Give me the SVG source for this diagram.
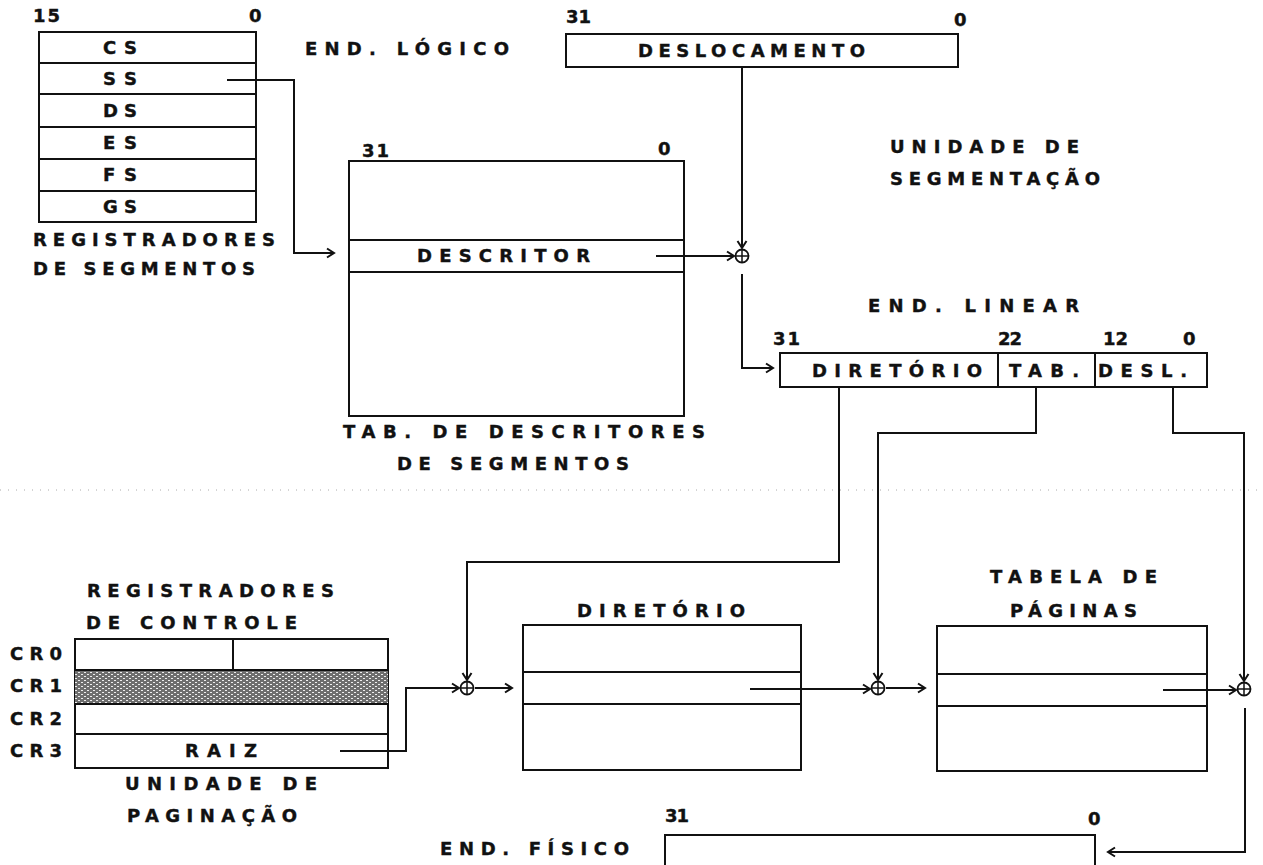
<svg xmlns="http://www.w3.org/2000/svg" width="1263" height="865" viewBox="0 0 1263 865">
<defs>
<style>
.t{font-family:"DejaVu Sans","Liberation Sans",sans-serif;font-weight:bold;font-size:18px;fill:#111;stroke:#111;stroke-width:0.4;letter-spacing:3px}
.box{fill:#fff;stroke:#111;stroke-width:2}
.ln{fill:none;stroke:#111;stroke-width:2}
.arr{fill:none;stroke:#111;stroke-width:2;marker-end:url(#ah)}
.sep{stroke:#aaa;stroke-width:1;stroke-dasharray:1 7}
</style>
<marker id="ah" markerWidth="12" markerHeight="12" refX="9" refY="6" orient="auto" markerUnits="userSpaceOnUse">
<path d="M2,1.5 L9,6 L2,10.5" fill="none" stroke="#111" stroke-width="2"/>
</marker>
<pattern id="hatch" width="6" height="4" patternUnits="userSpaceOnUse">
<rect width="6" height="4" fill="#6e6e6e"/>
<rect x="0" y="0" width="2" height="1" fill="#eee"/>
<rect x="3" y="2" width="2" height="1" fill="#eee"/>
</pattern>
<g id="adder-shape">
<circle cx="0" cy="0" r="6.5" fill="#fff" stroke="#111" stroke-width="1.8"/>
<path d="M-6.5,0 H6.5 M0,-6.5 V6.5" stroke="#111" stroke-width="1.5"/>
</g>
</defs>
<rect width="1263" height="865" fill="#fff"/>
<line class="sep" x1="0" y1="490" x2="1263" y2="490"/>

<g id="segment-registers">
<rect class="box" x="39" y="32" width="217" height="190"/>
<path class="ln" d="M39,63 H256 M39,94 H256 M39,127 H256 M39,159 H256 M39,191 H256"/>
<text class="t" x="33" y="22" textLength="30">15</text>
<text class="t" x="249" y="22">0</text>
<text class="t" x="103" y="54" textLength="37">CS</text>
<text class="t" x="103" y="85" textLength="37">SS</text>
<text class="t" x="103" y="117" textLength="37">DS</text>
<text class="t" x="103" y="149" textLength="37">ES</text>
<text class="t" x="103" y="181" textLength="37">FS</text>
<text class="t" x="103" y="213" textLength="37">GS</text>
<text class="t" x="33" y="246" textLength="245">REGISTRADORES</text>
<text class="t" x="33" y="275" textLength="225">DE SEGMENTOS</text>
</g>

<g id="logical-address">
<text class="t" x="305" y="55" textLength="207">END. LÓGICO</text>
<rect class="box" x="566" y="34" width="392" height="33"/>
<text class="t" x="566" y="23" textLength="28">31</text>
<text class="t" x="954" y="26">0</text>
<text class="t" x="638" y="57" textLength="230">DESLOCAMENTO</text>
</g>

<g id="segmentation-unit-label">
<text class="t" x="890" y="153" textLength="192">UNIDADE DE</text>
<text class="t" x="890" y="185" textLength="213">SEGMENTAÇÃO</text>
</g>

<g id="descriptor-table">
<rect class="box" x="349" y="161" width="335" height="255"/>
<path class="ln" d="M349,240 H684 M349,272 H684"/>
<text class="t" x="362" y="157" textLength="30">31</text>
<text class="t" x="658" y="155">0</text>
<text class="t" x="417" y="262" textLength="176">DESCRITOR</text>
<text class="t" x="343" y="438" textLength="365">TAB. DE DESCRITORES</text>
<text class="t" x="397" y="470" textLength="235">DE SEGMENTOS</text>
</g>

<g id="linear-address">
<text class="t" x="868" y="312" textLength="214">END. LINEAR</text>
<rect class="box" x="780" y="353" width="427" height="34"/>
<path class="ln" d="M998,353 V387 M1095,353 V387"/>
<text class="t" x="773" y="345" textLength="30">31</text>
<text class="t" x="998" y="345" textLength="27">22</text>
<text class="t" x="1103" y="345" textLength="28">12</text>
<text class="t" x="1183" y="345">0</text>
<text class="t" x="812" y="377" textLength="173">DIRETÓRIO</text>
<text class="t" x="1009" y="377" textLength="73">TAB.</text>
<text class="t" x="1098" y="377" textLength="92">DESL.</text>
</g>

<g id="control-registers">
<text class="t" x="87" y="597" textLength="250">REGISTRADORES</text>
<text class="t" x="86" y="629" textLength="214">DE CONTROLE</text>
<rect class="box" x="75" y="639" width="313" height="129"/>
<rect x="75" y="670" width="313" height="34" fill="url(#hatch)"/>
<path class="ln" d="M75,670 H388 M75,704 H388 M75,734 H388 M233,639 V670"/>
<text class="t" x="10" y="660" textLength="55">CR0</text>
<text class="t" x="10" y="692" textLength="55">CR1</text>
<text class="t" x="10" y="725" textLength="55">CR2</text>
<text class="t" x="10" y="757" textLength="55">CR3</text>
<text class="t" x="185" y="757" textLength="75">RAIZ</text>
<text class="t" x="125" y="790" textLength="195">UNIDADE DE</text>
<text class="t" x="127" y="822" textLength="173">PAGINAÇÃO</text>
</g>

<g id="directory">
<text class="t" x="577" y="617" textLength="171">DIRETÓRIO</text>
<rect class="box" x="523" y="625" width="278" height="145"/>
<path class="ln" d="M523,672 H801 M523,704 H801"/>
</g>

<g id="page-table">
<text class="t" x="990" y="583" textLength="170">TABELA DE</text>
<text class="t" x="1010" y="617" textLength="130">PÁGINAS</text>
<rect class="box" x="937" y="626" width="270" height="145"/>
<path class="ln" d="M937,674 H1207 M937,706 H1207"/>
</g>

<g id="physical-address">
<text class="t" x="440" y="855" textLength="192">END. FÍSICO</text>
<text class="t" x="665" y="822" textLength="27">31</text>
<text class="t" x="1088" y="825">0</text>
<rect class="box" x="665" y="835" width="430" height="45"/>
</g>

<g id="connectors">
<path class="arr" d="M227,80 H294 V253 H334"/>
<path class="arr" d="M742,67 V248"/>
<path class="arr" d="M656,256 H734"/>
<path class="arr" d="M742,274 V368 H773"/>
<path class="arr" d="M839,387 V562 H467 V680"/>
<path class="arr" d="M1036,387 V433 H878 V680"/>
<path class="arr" d="M1173,387 V433 H1244 V681"/>
<path class="arr" d="M340,751 H406 V688 H459"/>
<path class="arr" d="M475,688 H512"/>
<path class="arr" d="M750,689 H870"/>
<path class="arr" d="M886,688 H925"/>
<path class="arr" d="M1163,690 H1236"/>
<path class="arr" d="M1245,708 V852 H1108"/>
</g>

<g id="adder-1"><use href="#adder-shape" x="742" y="256"/></g>
<g id="adder-2"><use href="#adder-shape" x="467" y="688"/></g>
<g id="adder-3"><use href="#adder-shape" x="878" y="688"/></g>
<g id="adder-4"><use href="#adder-shape" x="1244" y="689"/></g>
</svg>
